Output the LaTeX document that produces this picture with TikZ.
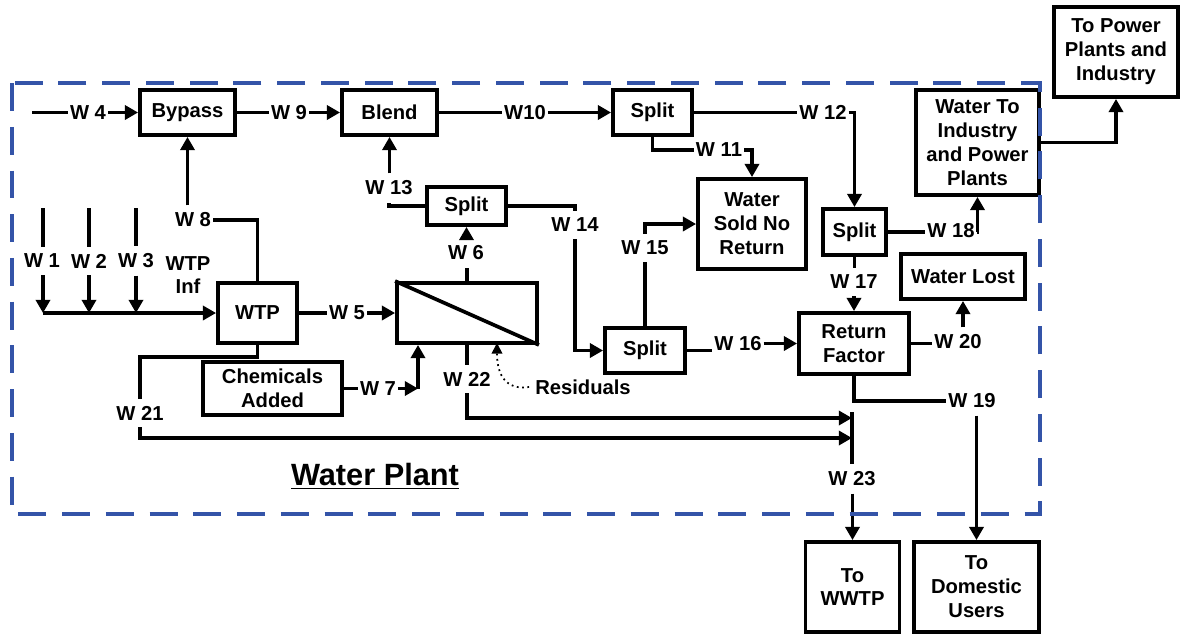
\documentclass[tikz,border=0pt]{standalone}
\usepackage{fontspec}
\setmainfont{Liberation Sans}
\usetikzlibrary{arrows.meta}
\definecolor{plantblue}{RGB}{52,84,168}

\begin{document}
\begin{tikzpicture}[x=0.02cm, y=-0.02cm,
	every node/.style={font=\bfseries\fontsize{11.5}{13.6}\selectfont},
	blk/.style={draw, line width=2.2pt, align=center, inner sep=0pt},
	wlab/.style={inner xsep=1pt, inner ysep=4pt},
	pipe/.style={line width=2.1pt},
	flow/.style={line width=2.1pt, -{Triangle[length=7.5pt,width=8pt]}}]
	\useasboundingbox (0,0) rectangle (1181,633);
	% blocks of the plant
	\node[blk, minimum width=1.9cm, minimum height=0.9cm] (bypass) at (187.5,112.5) {Bypass};
	\node[blk, minimum width=1.9cm, minimum height=0.9cm] (blend) at (389.5,112.5) {Blend};
	\node[blk, minimum width=1.58cm, minimum height=0.9cm] (split1) at (652.5,112.5) {Split};
	\node[blk, minimum width=1.58cm, minimum height=0.76cm] (split3) at (466.5,206) {Split};
	\node[blk, minimum width=1.6cm, minimum height=0.9cm] (split4) at (645,350.5) {Split};
	\node[blk, minimum width=1.26cm, minimum height=0.92cm] (split2) at (854.5,232) {Split};
	\node[blk, minimum width=2.16cm, minimum height=1.8cm] (sold) at (752,224) {Water\\Sold No\\Return};
	\node[blk, minimum width=1.58cm, minimum height=1.2cm] (wtp) at (257.5,313) {WTP};
	\node[blk, minimum width=2.8cm, minimum height=1.2cm] (filter) at (467,313) {};
	\node[blk, minimum width=2.78cm, minimum height=1.06cm] (chem) at (272.5,388.5) {Chemicals\\Added};
	\node[blk, minimum width=2.2cm, minimum height=1.22cm] (rf) at (854,343.5) {Return\\Factor};
	\node[blk, minimum width=2.48cm, minimum height=0.9cm] (lost) at (963,276.5) {Water Lost};
	\node[blk, minimum width=2.46cm, minimum height=2.1cm] (ind) at (977.5,142.5) {Water To\\Industry\\and Power\\Plants};
	% outside the plant
	\node[blk, minimum width=2.48cm, minimum height=1.8cm] (power) at (1116,52) {To Power\\Plants and\\Industry};
	\node[blk, minimum width=1.88cm, minimum height=1.8cm] (wwtp) at (852.5,587) {To\\WWTP};
	\node[blk, minimum width=2.5cm, minimum height=1.8cm] (dom) at (976.5,587) {To\\Domestic\\Users};
	\draw[pipe] (filter.north west) -- (filter.south east);

	% stream labels
	\node[wlab] (w1) at (42,261) {W 1};
	\node[wlab] (w2) at (89,261) {W 2};
	\node[wlab] (w3) at (136,261) {W 3};
	\node[wlab, align=center] (inf) at (188,275) {WTP\\Inf};
	\node[wlab] (w4) at (88,113) {W 4};
	\node[wlab] (w5) at (347,313) {W 5};
	\node[wlab] (w6) at (466,253) {W 6};
	\node[wlab] (w7) at (378,388.5) {W 7};
	\node[wlab] (w8) at (193,220) {W 8};
	\node[wlab] (w9) at (289,113) {W 9};
	\node[wlab] (w10) at (525,113) {W10};
	\node[wlab] (w11) at (719,150) {W 11};
	\node[wlab] (w12) at (823,112) {W 12};
	\node[wlab] (w13) at (389,188) {W 13};
	\node[wlab] (w14) at (575,225) {W 14};
	\node[wlab] (w15) at (645,248) {W 15};
	\node[wlab] (w16) at (738,344) {W 16};
	\node[wlab] (w17) at (854,282) {W 17};
	\node[wlab] (w18) at (951,231) {W 18};
	\node[wlab] (w19) at (972,401) {W 19};
	\node[wlab] (w20) at (958,342) {W 20};
	\node[wlab] (w21) at (140,413) {W 21};
	\node[wlab] (w22) at (467,379) {W 22};
	\node[wlab] (w23) at (852,479) {W 23};
	\node (res) at (583,387) {Residuals};
	\node[font=\bfseries\fontsize{17.5}{20}\selectfont] (plant) at (375,476) {\underline{Water Plant}};

	% free ends of the streams
	\coordinate (in4) at (32,112.5);
	\coordinate (t1) at (43,208);
	\coordinate (t2) at (89,208);
	\coordinate (t3) at (136,208);
	\coordinate (j1) at (43,313);
	\coordinate (j2) at (89,313);
	\coordinate (j3) at (136,313);
	\coordinate (c7) at (418,388.5);
	\coordinate (resin) at (497,343);
	\coordinate (bartop) at (852,412);
	\coordinate (j22) at (852,418);
	\coordinate (j21) at (852,438);

	% raw water into the WTP
	\foreach \i in {1,2,3} {
		\draw[pipe] (t\i) -- (t\i |- w\i.north);
		\draw[flow] (t\i |- w\i.south) -- (j\i);
	}
	\draw[flow] (j1) -- (wtp.west);
	% top line
	\draw[pipe] (in4) -- (in4 -| w4.west);
	\draw[flow] (bypass.west -| w4.east) -- (bypass.west);
	\draw[pipe] (bypass.east) -- (bypass.east -| w9.west);
	\draw[flow] (blend.west -| w9.east) -- (blend.west);
	\draw[pipe] (blend.east) -- (blend.east -| w10.west);
	\draw[flow] (split1.west -| w10.east) -- (split1.west);
	\draw[pipe] (split1.east) -- (split1.east -| w12.west);
	\draw[flow] (split1.east -| w12.east) -| (split2.north);
	\draw[pipe] (split1.south) |- (w11.west);
	\draw[flow] (w11.east) -| (sold.north);
	% treatment
	\draw[pipe] (wtp.north) |- (w8.east);
	\draw[flow] (bypass.south |- w8.north) -- (bypass.south);
	\draw[pipe] (wtp.east) -- (w5.west);
	\draw[flow] (w5.east) -- (filter.west);
	\draw[pipe] (chem.east) -- (w7.west);
	\draw[flow] (w7.east) -- (c7);
	\draw[flow] (c7) -- (c7 |- filter.south);
	\draw[line width=1pt, dotted, -{Triangle[length=6pt,width=6pt]}] (res.west) .. controls (508,390) and (497,378) .. (resin);
	\draw[pipe] (filter.north) -- (filter.north |- w6.south);
	\draw[flow] (split3.south |- w6.north) -- (split3.south);
	\draw[pipe] (split3.west) -| (w13.south);
	\draw[flow] (blend.south |- w13.north) -- (blend.south);
	\draw[pipe] (split3.east) -| (w14.north);
	\draw[flow] (w14.south) |- (split4.west);
	\draw[pipe] (split4.north) -- (w15.south);
	\draw[flow] (w15.north) |- (sold.west);
	\draw[pipe] (split4.east) -- (split4.east -| w16.west);
	\draw[flow] (rf.west -| w16.east) -- (rf.west);
	% distribution
	\draw[pipe] (split2.south) -- (split2.south |- w17.north);
	\draw[flow] (rf.north |- w17.south) -- (rf.north);
	\draw[pipe] (split2.east) -- (split2.east -| w18.west);
	\draw[flow] (split2.east -| w18.east) -| (ind.south);
	\draw[flow] (ind.east) -| (power.south);
	\draw[pipe] (rf.east) -- (rf.east -| w20.west);
	\draw[flow] (lost.south |- w20.north) -- (lost.south);
	\draw[pipe] (rf.south) |- (w19.west);
	\draw[flow] (dom.north |- w19.south) -- (dom.north);
	% waste water
	\draw[pipe] (wtp.south) -- ++(0,12) -| (w21.north);
	\draw[flow] (w21.south) |- (j21);
	\draw[pipe] (filter.south) -- (w22.north);
	\draw[flow] (w22.south) |- (j22);
	\draw[pipe] (bartop) -- (w23.north);
	\draw[flow] (wwtp.north |- w23.south) -- (wwtp.north);

	% plant boundary
	\draw[plantblue, line width=1.8pt, dash pattern=on 15.9pt off 9pt] (12,83) rectangle (1040,514);
\end{tikzpicture}
\end{document}
